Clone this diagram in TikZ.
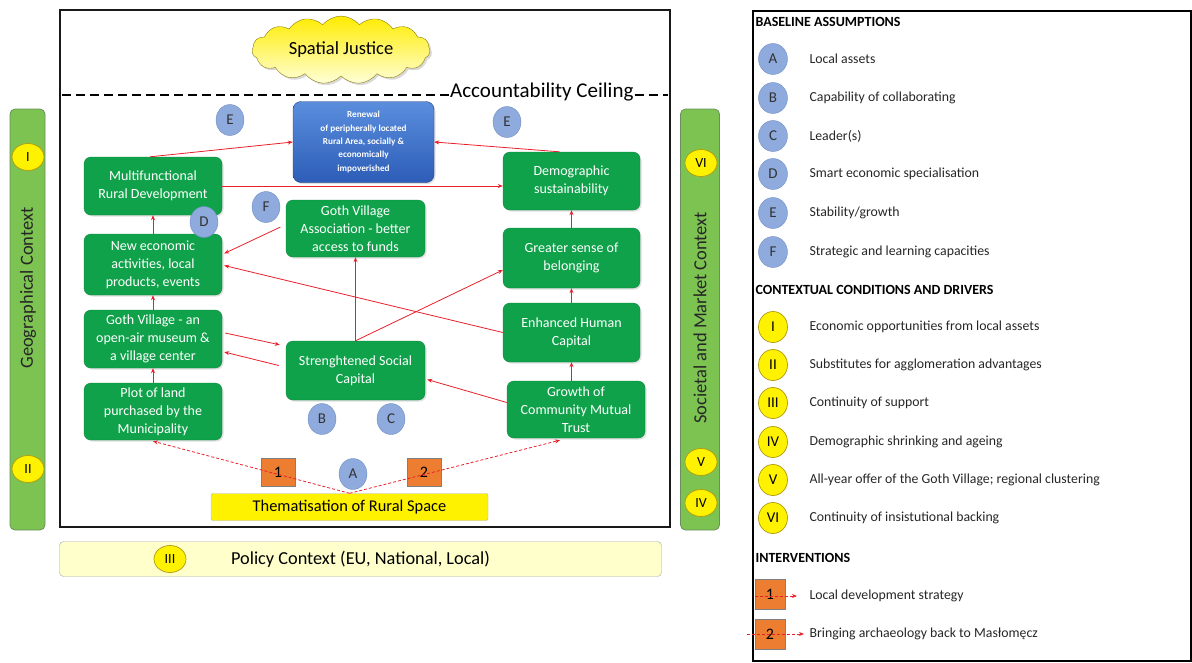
\documentclass[tikz,border=0pt]{standalone}
\usepackage{fontspec}
\setmainfont{Carlito}
\usetikzlibrary{arrows.meta,shapes.symbols,shapes.geometric,shadows,calc}
\definecolor{gbox}{HTML}{10A24A}
\definecolor{gboxd}{HTML}{0E8A3E}
\definecolor{bcirc}{HTML}{8FAADC}
\definecolor{bcircd}{HTML}{6F8FC4}
\definecolor{ycircd}{HTML}{B09A10}
\definecolor{orangeb}{HTML}{ED7D31}
\definecolor{redl}{HTML}{E8202A}
\definecolor{sidebarc}{HTML}{7DC352}
\definecolor{sidebard}{HTML}{6B8F5C}
\definecolor{policyc}{HTML}{FFFFCC}
\definecolor{bluetop}{HTML}{5A8EDD}
\definecolor{bluebot}{HTML}{2D5DB8}
\begin{document}
\begin{tikzpicture}[x=1pt,y=-1pt,
  gboxst/.style={draw=gboxd, fill=gbox, rounded corners=7pt, text=white, align=center,
    font=\fontsize{14}{18}\selectfont, inner sep=1pt,
    drop shadow={opacity=0.25, shadow xshift=1.5pt, shadow yshift=-1.5pt}},
  bc/.style={ellipse, draw=bcircd, fill=bcirc, minimum width=28pt, minimum height=31pt,
    inner sep=0pt, font=\fontsize{15}{15}\selectfont, text=black!80},
  yc/.style={ellipse, draw=ycircd, fill=yellow, line width=0.7pt, minimum width=32pt,
    minimum height=27pt, inner sep=0pt, font=\fontsize{14}{14}\selectfont},
  lyc/.style={yc, minimum width=29pt, minimum height=31pt, font=\fontsize{15}{15}\selectfont},
  lbc/.style={bc, minimum width=29pt, minimum height=31pt},
  ob/.style={draw=gray, fill=orangeb, minimum width=34pt, minimum height=28pt,
    inner sep=0pt, font=\fontsize{16}{16}\selectfont},
  lob/.style={ob, minimum width=30pt, minimum height=30pt},
  arr/.style={draw=redl, line width=0.8pt, -{Stealth[length=5pt,width=4pt]}},
  darr/.style={arr, dash pattern=on 3pt off 2pt},
  legtxt/.style={anchor=west, font=\fontsize{13.8}{14}\selectfont, text=black!85},
  leghead/.style={anchor=west, font=\bfseries\fontsize{14}{14}\selectfont},
  sidebar/.style={draw=sidebard, fill=sidebarc, rounded corners=5pt, line width=0.8pt},
  sidetxt/.style={rotate=90, font=\fontsize{18.5}{18.5}\selectfont, text=black!85}
]
\useasboundingbox (0,0) rectangle (1192,662);

% main frame
\draw[line width=2pt, black!90] (60,10) rectangle (670,527);

% cloud
\node[cloud, cloud puffs=15, cloud puff arc=100, aspect=2.7, draw=ycircd!80!black,
  top color=yellow!85!orange, bottom color=yellow!15, minimum width=178pt,
  minimum height=66pt, inner sep=0pt, font=\fontsize{18.5}{18.5}\selectfont,
  drop shadow={opacity=0.3, shadow xshift=2pt, shadow yshift=-2pt}]
  (sj) at (341,50) {Spatial Justice};

% accountability ceiling
\node[anchor=west, font=\fontsize{21}{21}\selectfont, inner sep=1pt] (acc) at (449,92) {Accountability Ceiling};
\draw[line width=2pt, dash pattern=on 9pt off 5pt] (62,95) -- (acc.west |- 0,95);
\draw[line width=2pt, dash pattern=on 9pt off 5pt] (acc.east |- 0,95) -- (668,95);

% side bars
\node[sidebar, minimum width=35pt, minimum height=421pt, inner sep=0pt] (lbar) at (27.5,319.5) {};
\node[sidetxt] (ltxt) at (28,288) {Geographical Context};
\node[yc] (lI) at (28,157) {I};
\node[yc] (lII) at (28,469) {II};

\node[sidebar, minimum width=39pt, minimum height=421pt, inner sep=0pt] (rbar) at (700,319.5) {};
\node[sidetxt] (rtxt) at (700,318) {Societal and Market Context};
\node[yc] (rVI) at (701,163) {VI};
\node[yc] (rV) at (701,462) {V};
\node[yc] (rIV) at (701,503) {IV};

% policy context
\node[draw=black!35, fill=policyc, rounded corners=4pt, minimum width=602pt, minimum height=35pt,
  font=\fontsize{18.3}{18.3}\selectfont, inner sep=0pt] (policy) at (360.5,559) {Policy Context (EU, National, Local)};
\node[yc] (pIII) at (170,559) {III};

% renewal box
\node[draw=bluebot!70!black, top color=bluetop, bottom color=bluebot, rounded corners=8pt,
  minimum width=141pt, minimum height=81pt, text=white, align=center, inner sep=0pt,
  font=\bfseries\fontsize{9.2}{13.3}\selectfont,
  drop shadow={opacity=0.25, shadow xshift=1.5pt, shadow yshift=-1.5pt}]
  (ren) at (363.5,142) {Renewal\\of peripherally located\\Rural Area, socially \&\\economically\\impoverished};

% green boxes
\node[gboxst, minimum width=138pt, minimum height=58pt] (mrd) at (153,186) {Multifunctional\\Rural Development};
\node[gboxst, minimum width=137pt, minimum height=58pt] (demo) at (571.5,181) {Demographic\\sustainability};
\node[gboxst, minimum width=139pt, minimum height=57pt] (gva) at (355.5,228.5) {Goth Village\\Association - better\\access to funds};
\node[gboxst, minimum width=138pt, minimum height=61pt] (neo) at (153,264.5) {New economic\\activities, local\\products, events};
\node[gboxst, minimum width=137pt, minimum height=60pt] (gsb) at (571.5,258) {Greater sense of\\belonging};
\node[gboxst, minimum width=138pt, minimum height=58pt] (gvm) at (153,339) {Goth Village - an\\open-air museum \&\\a village center};
\node[gboxst, minimum width=137pt, minimum height=59pt] (ehc) at (571.5,332.5) {Enhanced Human\\Capital};
\node[gboxst, minimum width=139pt, minimum height=59pt] (ssc) at (355.5,370.5) {Strenghtened Social\\Capital};
\node[gboxst, minimum width=138pt, minimum height=57pt] (plot) at (153,411.5) {Plot of land\\purchased by the\\Municipality};
\node[gboxst, minimum width=138pt, minimum height=57pt] (gcm) at (576,409.5) {Growth of\\Community Mutual\\Trust};

% thematisation
\node[draw=black!30, fill=yellow, rounded corners=2pt, minimum width=277pt, minimum height=27pt,
  inner sep=0pt, font=\fontsize{16.4}{16.4}\selectfont] (theme) at (349.5,507) {Thematisation of Rural Space};

% interventions boxes
\node[ob] (i1) at (278,472) {1};
\node[ob] (i2) at (424,472) {2};

% connectors
\draw[arr] ($(mrd.north)+(-3,0)$) -- (ren.west);
\draw[arr] ($(demo.north)+(-12,0)$) -- (ren.east);
\draw[arr] (mrd.east) -- ($(demo.west)+(0,5)$);
\draw[arr] (neo.north) -- (mrd.south);
\draw[arr] (gvm.north) -- (neo.south);
\draw[arr] (plot.north) -- (gvm.south);
\draw[arr, shorten <=6pt] ($(gva.west)+(0,-4)$) -- ($(neo.east)+(2,-11)$);
\draw[arr] (ssc.north) -- (gva.south);
\draw[arr] (ssc.north) -- ($(gsb.west)+(0,12)$);
\draw[arr] (ehc.west) -- ($(neo.east)+(2,1)$);
\draw[arr] ($(gvm.east)+(3,-6)$) -- ($(ssc.north west)+(-6,4)$);
\draw[arr] ($(ssc.west)+(-7,-5)$) -- ($(gvm.east)+(2,13)$);
\draw[arr] ($(gcm.west)+(0,-7)$) -- ($(ssc.east)+(2,9)$);
\draw[arr] (ehc.south |- gcm.north) -- (ehc.south);
\draw[arr] (ehc.north) -- (gsb.south);
\draw[arr] (gsb.north) -- (demo.south);
\draw[darr] (theme.north) -- ($(plot.south)+(0,1)$);
\draw[darr] (theme.north) -- ($(gcm.south)+(-16,2)$);

% baseline circles in diagram
\node[bc] (cE1) at (230,120) {E};
\node[bc] (cE2) at (507,122) {E};
\node[bc] (cD) at (204,222) {D};
\node[bc] (cF) at (266,207) {F};
\node[bc] (cB) at (322,419) {B};
\node[bc] (cC) at (391,419) {C};
\node[bc] (cA) at (353,474) {A};

% legend
\node[draw, line width=1.5pt, minimum width=438pt, minimum height=650pt, inner sep=0pt, anchor=north west] (leg) at (752,10) {};
\node[leghead] (h1) at (752,22) {BASELINE ASSUMPTIONS};
\node[lbc] (la) at (773,59) {A};  \node[legtxt] at (806,59) {Local assets};
\node[lbc] (lb) at (773,98) {B};  \node[legtxt] at (806,98) {Capability of collaborating};
\node[lbc] (lc) at (773,136) {C}; \node[legtxt] at (806,136) {Leader(s)};
\node[lbc] (ld) at (773,174) {D}; \node[legtxt] at (806,174) {Smart economic specialisation};
\node[lbc] (le) at (773,213) {E}; \node[legtxt] at (806,213) {Stability/growth};
\node[lbc] (lf) at (773,252) {F}; \node[legtxt] at (806,252) {Strategic and learning capacities};
\node[leghead] (h2) at (752,290) {CONTEXTUAL CONDITIONS AND DRIVERS};
\node[lyc] (l1) at (773,327) {I};   \node[legtxt] at (806,327) {Economic opportunities from local assets};
\node[lyc] (l2) at (773,365) {II};  \node[legtxt] at (806,365) {Substitutes for agglomeration advantages};
\node[lyc] (l3) at (773,403) {III}; \node[legtxt] at (806,403) {Continuity of support};
\node[lyc] (l4) at (773,442) {IV};  \node[legtxt] at (806,442) {Demographic shrinking and ageing};
\node[lyc] (l5) at (773,480) {V};   \node[legtxt] at (806,480) {All-year offer of the Goth Village; regional clustering};
\node[lyc] (l6) at (773,518) {VI};  \node[legtxt] at (806,518) {Continuity of insistutional backing};
\node[leghead] (h3) at (752,558) {INTERVENTIONS};
\node[lob] (lo1) at (770,594) {1};
\node[lob] (lo2) at (770,634) {2};
\node[legtxt] (t1) at (806,596) {Local development strategy};
\node[legtxt] (t2) at (806,634) {Bringing archaeology back to Masłomęcz};
\draw[darr] (lo1.west |- t1.west) -- ($(t1.west)+(-9,0)$);
\draw[darr] ($(lo2.west)+(-8,0)$) -- ($(t2.west)+(-2,0)$);
\end{tikzpicture}
\end{document}
